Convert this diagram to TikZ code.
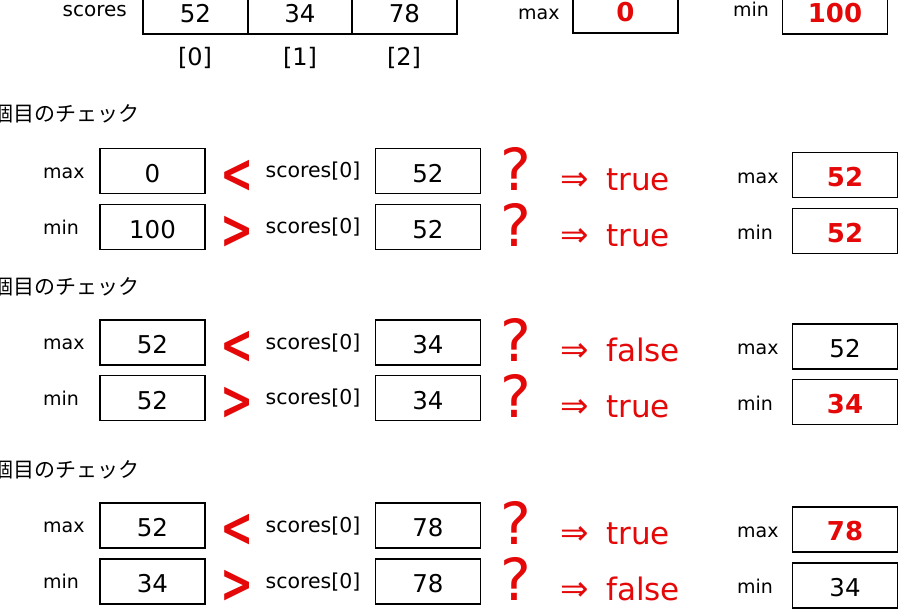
\documentclass[tikz,border=0pt]{standalone}
\usepackage{fontspec}
\setmainfont{DejaVu Sans}
\newfontfamily\jpfont{Noto Sans CJK JP}
\definecolor{hl}{RGB}{228,8,8}
\tikzset{
  x=1pt, y=-1pt,
  box/.style={draw, line width=1.8pt, minimum width=105pt, minimum height=45pt,
    inner sep=0pt, text height=22pt, text depth=0pt, font=\fontsize{24.5}{28}\selectfont},
  cellbox/.style={box, minimum width=104.7pt},
  hot/.style={text=hl, font=\bfseries\fontsize{26}{30}\selectfont},
  lbl/.style={inner sep=0pt, anchor=base west, font=\fontsize{19}{22}\selectfont},
  slbl/.style={inner sep=0pt, anchor=base, font=\fontsize{20.5}{24}\selectfont},
  idx/.style={inner sep=0pt, anchor=base, font=\fontsize{24}{28}\selectfont},
  opsym/.style={inner sep=0pt, anchor=base, text=hl, font=\bfseries\fontsize{45}{50}\selectfont},
  qmark/.style={inner sep=0pt, anchor=base, text=hl, font=\fontsize{58}{62}\selectfont},
  implies/.style={inner sep=0pt, anchor=base, text=hl, font=\fontsize{34}{38}\selectfont},
  result/.style={inner sep=0pt, anchor=base west, text=hl, font=\fontsize{31}{34}\selectfont},
  header/.style={inner sep=0pt, anchor=base west, font=\jpfont\fontsize{21}{24}\selectfont},
}
% #1 prefix, #2 y centre, #3 label, #4 left value, #5 operator, #6 mid value,
% #7 result, #8 right box style, #9 right value
\newcommand\cmprow[9]{%
  \node[lbl] (#1l) at (43,#2+7) {#3};
  \node[box] (#1a) at (152.5,#2) {#4};
  \node[opsym] (#1o) at (237,#2+21) {\scalebox{0.88}[1.2]{#5}};
  \node[slbl] (#1s) at (313,#2+6.5) {scores[0]};
  \node[box] (#1b) at (428,#2) {#6};
  \node[qmark] (#1q) at (515.5,#2+19) {?};
  \node[implies] (#1r) at (575,#2+19) {⇒};
  \node[result] (#1t) at (606,#2+19) {#7};
  \node[lbl] (#1m) at (737,#2+12) {#3};
  \node[box,#8] (#1c) at (845,#2+4) {#9};
}
\begin{document}
\begin{tikzpicture}
  \fill[white] (0,0) rectangle (900,610);
  \useasboundingbox (0,0) rectangle (900,610);

  % top: array and initial values
  \node[inner sep=0pt, anchor=base east, font=\fontsize{20}{24}\selectfont] (sl) at (127,17) {scores};
  \node[cellbox] (c0) at (195.5,11.5) {52};
  \node[cellbox] (c1) at (300,11.5) {34};
  \node[cellbox] (c2) at (404.5,11.5) {78};
  \node[idx] (i0) at (195,66) {[0]};
  \node[idx] (i1) at (300,66) {[1]};
  \node[idx] (i2) at (404,66) {[2]};
  \node[lbl] (tmaxl) at (518,20) {max};
  \node[box,hot] (tmax) at (625.5,10.5) {0};
  \node[lbl] (tminl) at (733,17) {min};
  \node[box,hot] (tmin) at (835,11.5) {100};

  % section 1
  \node[header] (h1) at (-8,121.5) {個目のチェック};
  \cmprow{a}{171}{max}{0}{<}{52}{true}{hot}{52}
  \cmprow{b}{227}{min}{100}{>}{52}{true}{hot}{52}

  % section 2
  \node[header] (h2) at (-8,294) {個目のチェック};
  \cmprow{c}{342.5}{max}{52}{<}{34}{false}{}{52}
  \cmprow{d}{398}{min}{52}{>}{34}{true}{hot}{34}

  % section 3
  \node[header] (h3) at (-8,477.5) {個目のチェック};
  \cmprow{e}{525.5}{max}{52}{<}{78}{true}{hot}{78}
  \cmprow{f}{581.5}{min}{34}{>}{78}{false}{}{34}
\end{tikzpicture}
\end{document}
